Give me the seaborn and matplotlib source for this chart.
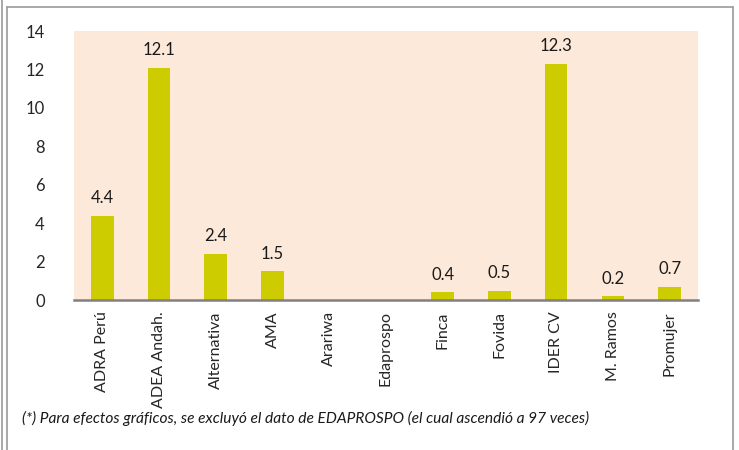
import pandas as pd
import matplotlib.pyplot as plt
import matplotlib.lines as mlines
import seaborn as sns

# Data
instituciones = ['ADRA Perú', 'ADEA Andah.', 'Alternativa', 'AMA', 'Arariwa', 'Edaprospo',
                 'Finca', 'Fovida', 'IDER CV', 'M. Ramos', 'Promujer']
valores = [4.4, 12.1, 2.4, 1.5, 0, 0, 0.4, 0.5, 12.3, 0.2, 0.7]
nota = '(*) Para efectos gráficos, se excluyó el dato de EDAPROSPO (el cual ascendió a 97 veces)'

df = pd.DataFrame({'institucion': instituciones, 'valor': valores})

sns.set_style('white')
plt.rcParams['font.family'] = ['Lato', 'DejaVu Sans']

fig = plt.figure(figsize=(7.39, 4.5), dpi=100)
ax = fig.add_axes([0.100, 0.333, 0.8445, 0.598])

sns.barplot(data=df, x='institucion', y='valor', color='#CCCC00', width=0.4,
            saturation=1, linewidth=0, ax=ax)
ax.set_facecolor('#FDE9D9')

# value labels only for non-zero bars
for i, v in enumerate(valores):
    if v > 0:
        ax.annotate(f'{v:.1f}', (i, v), xytext=(0, 7), textcoords='offset points',
                    ha='center', va='bottom', fontsize=12, color='#1a1a1a')

ax.set_ylim(0, 14)
ax.set_yticks(range(0, 15, 2))
ax.set_xlim(-0.5, len(instituciones) - 0.5)
ax.set_xlabel('')
ax.set_ylabel('')
ax.tick_params(axis='y', length=0, pad=21, labelsize=12)
ax.tick_params(axis='x', length=0, pad=8, labelsize=11.5)
plt.setp(ax.get_xticklabels(), rotation=90)

for s in ['top', 'right', 'left']:
    ax.spines[s].set_visible(False)
ax.spines['bottom'].set_color('#808080')
ax.spines['bottom'].set_linewidth(1.8)

fig.text(22 / 739, 1 - 418 / 450, nota, fontsize=11.2, style='italic',
         ha='left', va='center', color='#1a1a1a')

# chart frame
W, H = 739, 450
frame = dict(color='#9a9a9a', linewidth=1.2, transform=fig.transFigure)
fig.add_artist(mlines.Line2D([2 / W, 2 / W], [0, 1], **frame))
fig.add_artist(mlines.Line2D([7 / W, 7 / W], [0, 1 - 7 / H], **frame))
fig.add_artist(mlines.Line2D([7 / W, 733 / W], [1 - 7 / H, 1 - 7 / H], **frame))
fig.add_artist(mlines.Line2D([733 / W, 733 / W], [0, 1 - 7 / H], **frame))

fig.savefig('out.png', dpi=100)
